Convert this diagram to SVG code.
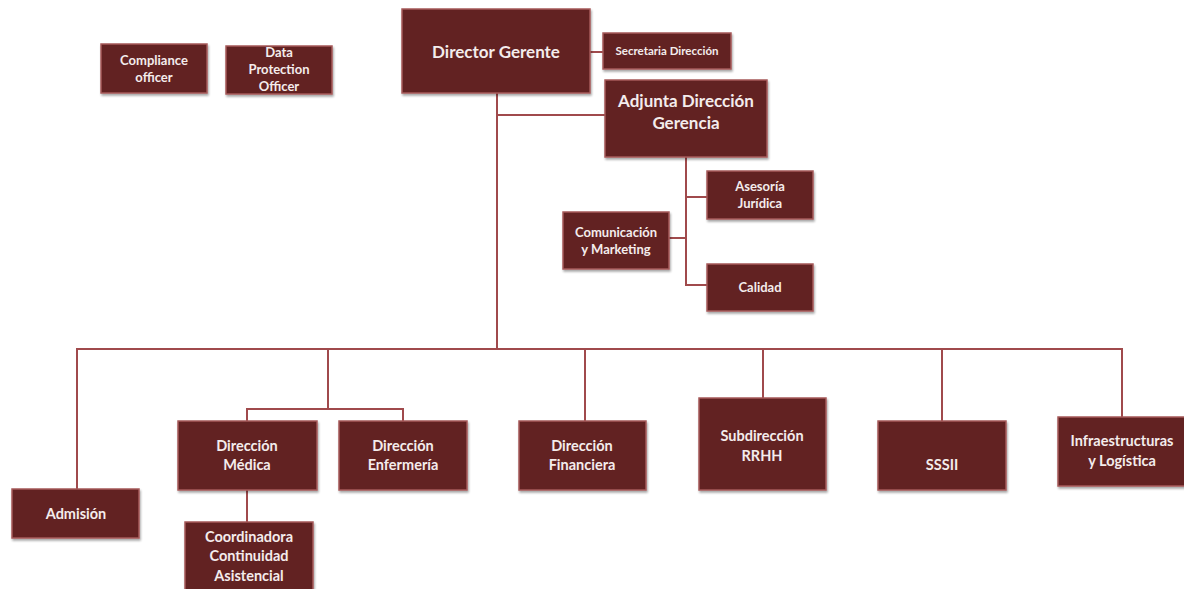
<svg xmlns="http://www.w3.org/2000/svg" width="1184" height="589" viewBox="0 0 1184 589">
<defs>
<filter id="sh" x="-10%" y="-10%" width="125%" height="130%">
<feDropShadow dx="1" dy="2" stdDeviation="1.2" flood-color="#000" flood-opacity="0.35"/>
</filter>
</defs>
<style>
.b{fill:#622424;stroke:#a65a5a;stroke-width:1.5;filter:url(#sh)}
.c{fill:none;stroke:#a04a4c;stroke-width:2}
text{font-family:Lato,"Open Sans","Liberation Sans",sans-serif;font-weight:bold;fill:#f4ecec;text-anchor:middle}
.l{font-size:17px}
.m{font-size:14.5px}
.s{font-size:13px}
.x{font-size:11.5px}
</style>
<rect width="1184" height="589" fill="#fff"/>
<g id="connectors">
<path class="c" d="M590 52H603"/>
<path class="c" d="M497 93V349"/>
<path class="c" d="M497 115H605"/>
<path class="c" d="M686 157V285H707"/>
<path class="c" d="M686 197H707"/>
<path class="c" d="M669 238H686"/>
<path class="c" d="M77 489V349H1122V417"/>
<path class="c" d="M328 349V409"/>
<path class="c" d="M247 421V409H403V421"/>
<path class="c" d="M247 490V522"/>
<path class="c" d="M585 349V421"/>
<path class="c" d="M763 349V398"/>
<path class="c" d="M942 349V421"/>
</g>
<g id="compliance"><rect class="b" x="101" y="44" width="106" height="49"/><text class="s" x="154" y="65">Compliance</text><text class="s" x="154" y="82">officer</text></g>
<g id="dpo"><rect class="b" x="226" y="46" width="106" height="48"/><text class="s" x="279" y="57">Data</text><text class="s" x="279" y="74">Protection</text><text class="s" x="279" y="91">Officer</text></g>
<g id="director"><rect class="b" x="402" y="9" width="188" height="84"/><text class="l" x="496" y="58">Director Gerente</text></g>
<g id="secretaria"><rect class="b" x="603" y="33" width="128" height="36"/><text class="x" x="667" y="55">Secretaria Dirección</text></g>
<g id="adjunta"><rect class="b" x="605" y="80" width="162" height="77"/><text class="l" x="686" y="107">Adjunta Dirección</text><text class="l" x="686" y="129">Gerencia</text></g>
<g id="asesoria"><rect class="b" x="707" y="171" width="106" height="48"/><text class="s" x="760" y="191">Asesoría</text><text class="s" x="760" y="208">Jurídica</text></g>
<g id="comunicacion"><rect class="b" x="563" y="212" width="106" height="57"/><text class="s" x="616" y="237">Comunicación</text><text class="s" x="616" y="254">y Marketing</text></g>
<g id="calidad"><rect class="b" x="707" y="264" width="106" height="47"/><text class="s" x="760" y="292">Calidad</text></g>
<g id="admision"><rect class="b" x="12" y="489" width="127" height="49"/><text class="m" x="76" y="519">Admisión</text></g>
<g id="medica"><rect class="b" x="178" y="421" width="139" height="69"/><text class="m" x="247" y="451">Dirección</text><text class="m" x="247" y="470">Médica</text></g>
<g id="enfermeria"><rect class="b" x="339" y="421" width="128" height="69"/><text class="m" x="403" y="451">Dirección</text><text class="m" x="403" y="470">Enfermería</text></g>
<g id="coordinadora"><rect class="b" x="185" y="522" width="128" height="72"/><text class="m" x="249" y="542">Coordinadora</text><text class="m" x="249" y="561">Continuidad</text><text class="m" x="249" y="581">Asistencial</text></g>
<g id="financiera"><rect class="b" x="519" y="421" width="127" height="69"/><text class="m" x="582" y="451">Dirección</text><text class="m" x="582" y="470">Financiera</text></g>
<g id="rrhh"><rect class="b" x="699" y="398" width="127" height="92"/><text class="m" x="762" y="441">Subdirección</text><text class="m" x="762" y="461">RRHH</text></g>
<g id="sssii"><rect class="b" x="878" y="421" width="128" height="69"/><text class="m" x="942" y="470">SSSII</text></g>
<g id="infra"><rect class="b" x="1058" y="417" width="128" height="69"/><text class="m" x="1122" y="446">Infraestructuras</text><text class="m" x="1122" y="466">y Logística</text></g>
</svg>
